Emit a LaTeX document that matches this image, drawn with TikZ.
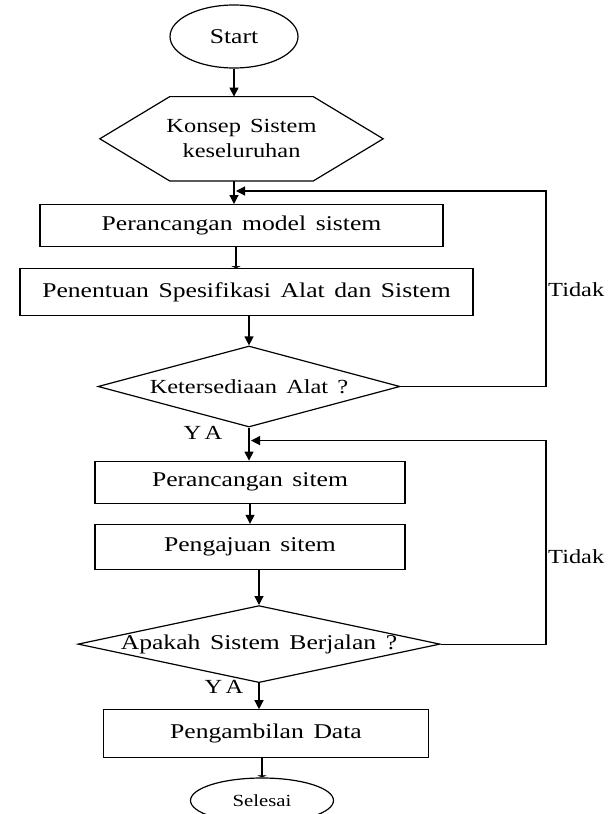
\documentclass[tikz,border=0pt]{standalone}
\usepackage{fontspec}
\setmainfont{Liberation Serif}[FakeStretch=1.22, WordSpace=1.5]
\usetikzlibrary{arrows.meta, positioning, shapes.geometric}

\begin{document}
\begin{tikzpicture}[x=1pt, y=-1pt,
      box/.style={rectangle, draw, line width=1.2pt, inner sep=0pt,
                  align=center, font=\fontsize{21}{25}\selectfont},
      term/.style={ellipse, draw, line width=1.2pt, inner sep=0pt},
      dec/.style={diamond, draw, line width=1.2pt, inner sep=0pt,
                  font=\fontsize{20}{24}\selectfont},
      lbl/.style={font=\fontsize{20}{24}\selectfont, inner sep=0pt},
      arr/.style={-{Triangle[length=9pt, width=9pt]}, line width=1.2pt},
      tick/.style={-{Triangle[length=2pt, width=9pt]}, line width=1.2pt}
    ]
    \useasboundingbox (0,0) rectangle (612,814);

    \node[term, minimum width=128pt, minimum height=63pt,
          font=\fontsize{21}{25}\selectfont] (start) at (234,36.5) {Start};
    \node[inner sep=0pt, minimum width=283pt, minimum height=84pt,
          align=center, font=\fontsize{20}{25}\selectfont,
          below=28pt of start, xshift=7.5pt] (konsep) {Konsep Sistem\\keseluruhan};
    \draw[line width=1.2pt] (konsep.west) -- ([xshift=70pt]konsep.north west)
      -- ([xshift=-70pt]konsep.north east) -- (konsep.east)
      -- ([xshift=-70pt]konsep.south east) -- ([xshift=70pt]konsep.south west) -- cycle;
    \node[box, minimum width=403pt, minimum height=42pt,
          below=23pt of konsep, xshift=0pt] (model) {Perancangan model sistem};
    \node[box, minimum width=453pt, minimum height=47pt,
          below=21pt of model, xshift=5pt] (spek) {Penentuan Spesifikasi Alat dan Sistem};
    \node[dec, minimum width=302pt, minimum height=81pt,
          below=29pt of spek, xshift=2.5pt] (alat) {\makebox[0pt]{Ketersediaan Alat ?}};
    \node[box, minimum width=310pt, minimum height=42pt,
          below=33pt of alat, xshift=1pt] (sistem) {Perancangan sitem};
    \node[box, minimum width=310pt, minimum height=45pt,
          below=20pt of sistem] (ajuan) {Pengajuan sitem};
    \node[dec, minimum width=362pt, minimum height=77pt, font=\fontsize{21}{25}\selectfont,
          below=35pt of ajuan, xshift=9pt] (jalan) {\makebox[0pt]{Apakah Sistem Berjalan ?}};
    \node[box, minimum width=325pt, minimum height=48pt,
          below=26pt of jalan, xshift=7pt] (data) {Pengambilan Data};
    \node[term, minimum width=143pt, minimum height=45pt, font=\fontsize{17}{20}\selectfont,
          below=19pt of data, xshift=-4pt] (selesai) {Selesai};

    \coordinate (rt) at (546,0);
    \coordinate (j1) at ([xshift=2pt, yshift=-10pt]konsep.south -| start.south);
    \coordinate (j2) at ([xshift=2pt, yshift=-13pt]alat.south);

    \draw[arr] (start.south) -- (start.south |- konsep.north);
    \draw[arr] (start.south |- konsep.south) -- (start.south |- model.north);
    \draw[tick] (j1 |- model.south) -- (j1 |- spek.north);
    \draw[arr] (alat.north |- spek.south) -- (alat.north);
    \draw[arr] (alat.south) -- (alat.south |- sistem.north);
    \draw[arr] (sistem.south) -- (sistem.south |- ajuan.north);
    \draw[arr] (jalan.north |- ajuan.south) -- (jalan.north);
    \draw[arr] (jalan.south) -- (jalan.south |- data.north);
    \draw[tick] (selesai.north |- data.south) -- (selesai.north);

    % balik kalau tidak
    \draw[arr] (alat.east) -| (rt |- j1) -- (j1);
    \draw[arr] (jalan.east) -| (rt |- j2) -- (j2);

    \node[lbl, anchor=west] (tidak1) at (548,290) {Tidak};
    \node[lbl, anchor=west] (tidak2) at (548,557) {Tidak};
    \node[lbl] (ya1) at (203,433) {Y\,A};
    \node[lbl] (ya2) at (224,687) {Y\,A};
  \end{tikzpicture}
\end{document}
